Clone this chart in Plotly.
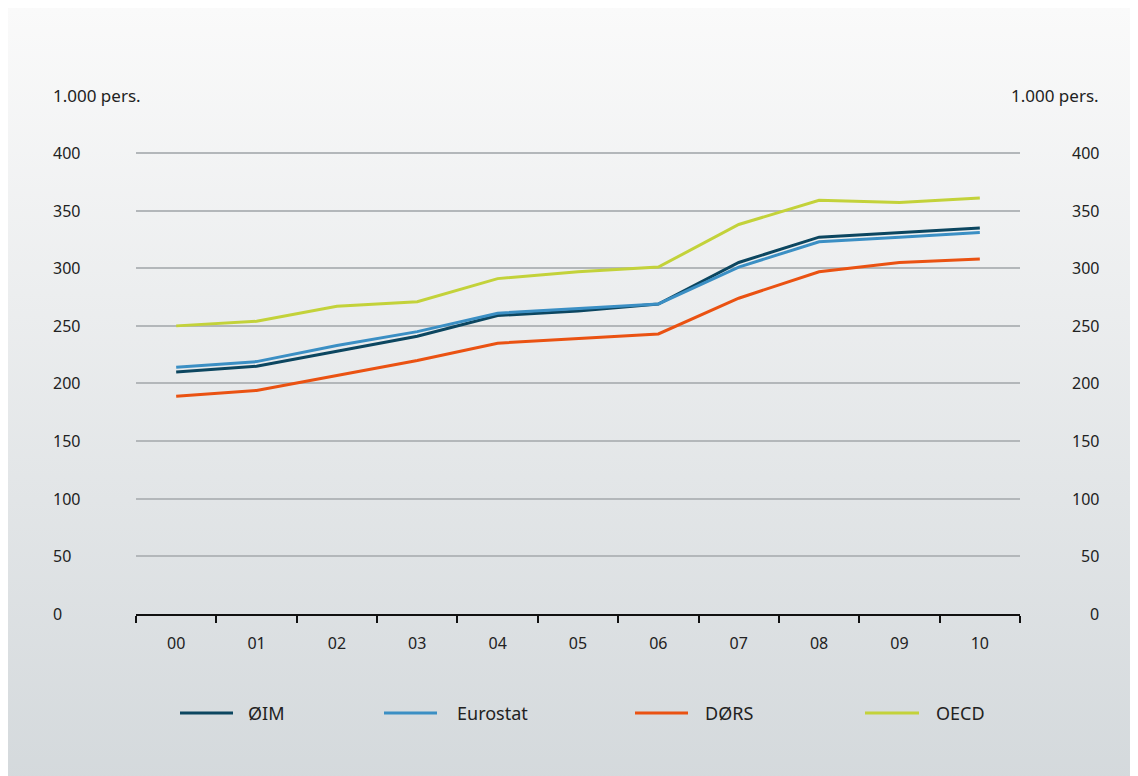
import plotly.graph_objects as go
from urllib.parse import quote

years = ["00", "01", "02", "03", "04", "05", "06", "07", "08", "09", "10"]
oim = [210, 215, 228, 241, 259, 263, 269, 305, 327, 331, 335]
eurostat = [214, 219, 233, 245, 261, 265, 269, 301, 323, 327, 331]
dors = [189, 194, 207, 220, 235, 239, 243, 274, 297, 305, 308]
oecd = [250, 254, 267, 271, 291, 297, 301, 338, 359, 357, 361]
y_ticks = [0, 50, 100, 150, 200, 250, 300, 350, 400]

W, H = 1138, 776
OFF = 8  # body margin of the page
FONT = "Noto Sans"
TXT = "#222222"

series = [
    ("ØIM", oim, "#0c4660"),
    ("Eurostat", eurostat, "#3b8fc4"),
    ("DØRS", dors, "#ea5212"),
    ("OECD", oecd, "#c3d23a"),
]

fig = go.Figure()
for name, vals, col in series:
    fig.add_trace(go.Scatter(x=years, y=vals, name=name, mode="lines",
                             line=dict(color=col, width=3), showlegend=False))

# positions given in screenshot pixels
px = lambda v: (v - OFF) / W
py = lambda v: 1 - (v - OFF) / H

y_top = 402
top_px = 614 - y_top * 461 / 400
fig.update_layout(
    width=W, height=H,
    margin=dict(l=0, r=0, t=0, b=0),
    paper_bgcolor="white",
    plot_bgcolor="rgba(0,0,0,0)",
    font=dict(family=FONT, size=16, color=TXT),
    xaxis=dict(domain=[px(136), px(1020)], type="category", range=[-0.5, 10.5],
               showline=True, linecolor="#111111", linewidth=1.5,
               ticks="outside", tickson="boundaries", ticklen=7, tickcolor="#111111",
               tickwidth=1.5, showgrid=False, ticklabelstandoff=14,
               automargin=False, fixedrange=True),
    yaxis=dict(domain=[py(614), py(top_px)], range=[0, y_top], tickvals=y_ticks,
               showgrid=True, gridcolor="#b3b7ba", gridwidth=1.5, zeroline=False,
               ticks="", showticklabels=False, automargin=False, fixedrange=True),
)

# value labels on both sides: left-aligned on the left, right-aligned on the right
for v in y_ticks:
    fig.add_annotation(text=str(v), xref="paper", yref="y", x=px(51), y=v,
                       xanchor="left", yanchor="middle", showarrow=False)
    fig.add_annotation(text=str(v), xref="paper", yref="y", x=px(1101), y=v,
                       xanchor="right", yanchor="middle", showarrow=False)

svg = ('<svg xmlns="http://www.w3.org/2000/svg" width="100" height="100" preserveAspectRatio="none">'
       '<defs><linearGradient id="g" x1="0" y1="0" x2="0" y2="1">'
       '<stop offset="0" stop-color="#fafafa"/><stop offset="1" stop-color="#d4d9dc"/>'
       '</linearGradient></defs><rect width="100" height="100" fill="url(#g)"/></svg>')
fig.add_layout_image(dict(source="data:image/svg+xml;charset=utf-8," + quote(svg),
                          xref="paper", yref="paper", x=0, y=1, sizex=1, sizey=1,
                          xanchor="left", yanchor="top", sizing="stretch", layer="below"))

fig.add_annotation(text="1.000 pers.", xref="paper", yref="paper", x=px(51), y=py(95),
                   xanchor="left", yanchor="middle", showarrow=False, font=dict(size=17))
fig.add_annotation(text="1.000 pers.", xref="paper", yref="paper", x=px(1101), y=py(95),
                   xanchor="right", yanchor="middle", showarrow=False, font=dict(size=17))

# legend drawn by hand to match the original spacing
leg_y = py(713)
leg_pos = [(180, 233, 246), (384, 437, 455), (635, 688, 703), (865, 919, 934)]
for (name, vals, col), (x0, x1, xt) in zip(series, leg_pos):
    fig.add_shape(type="line", xref="paper", yref="paper", x0=px(x0), x1=px(x1),
                  y0=leg_y, y1=leg_y, line=dict(color=col, width=3))
    fig.add_annotation(text=name, xref="paper", yref="paper", x=px(xt), y=leg_y,
                       xanchor="left", yanchor="middle", showarrow=False,
                       font=dict(size=18))

fig.write_html("out.html", config={"displayModeBar": False})
